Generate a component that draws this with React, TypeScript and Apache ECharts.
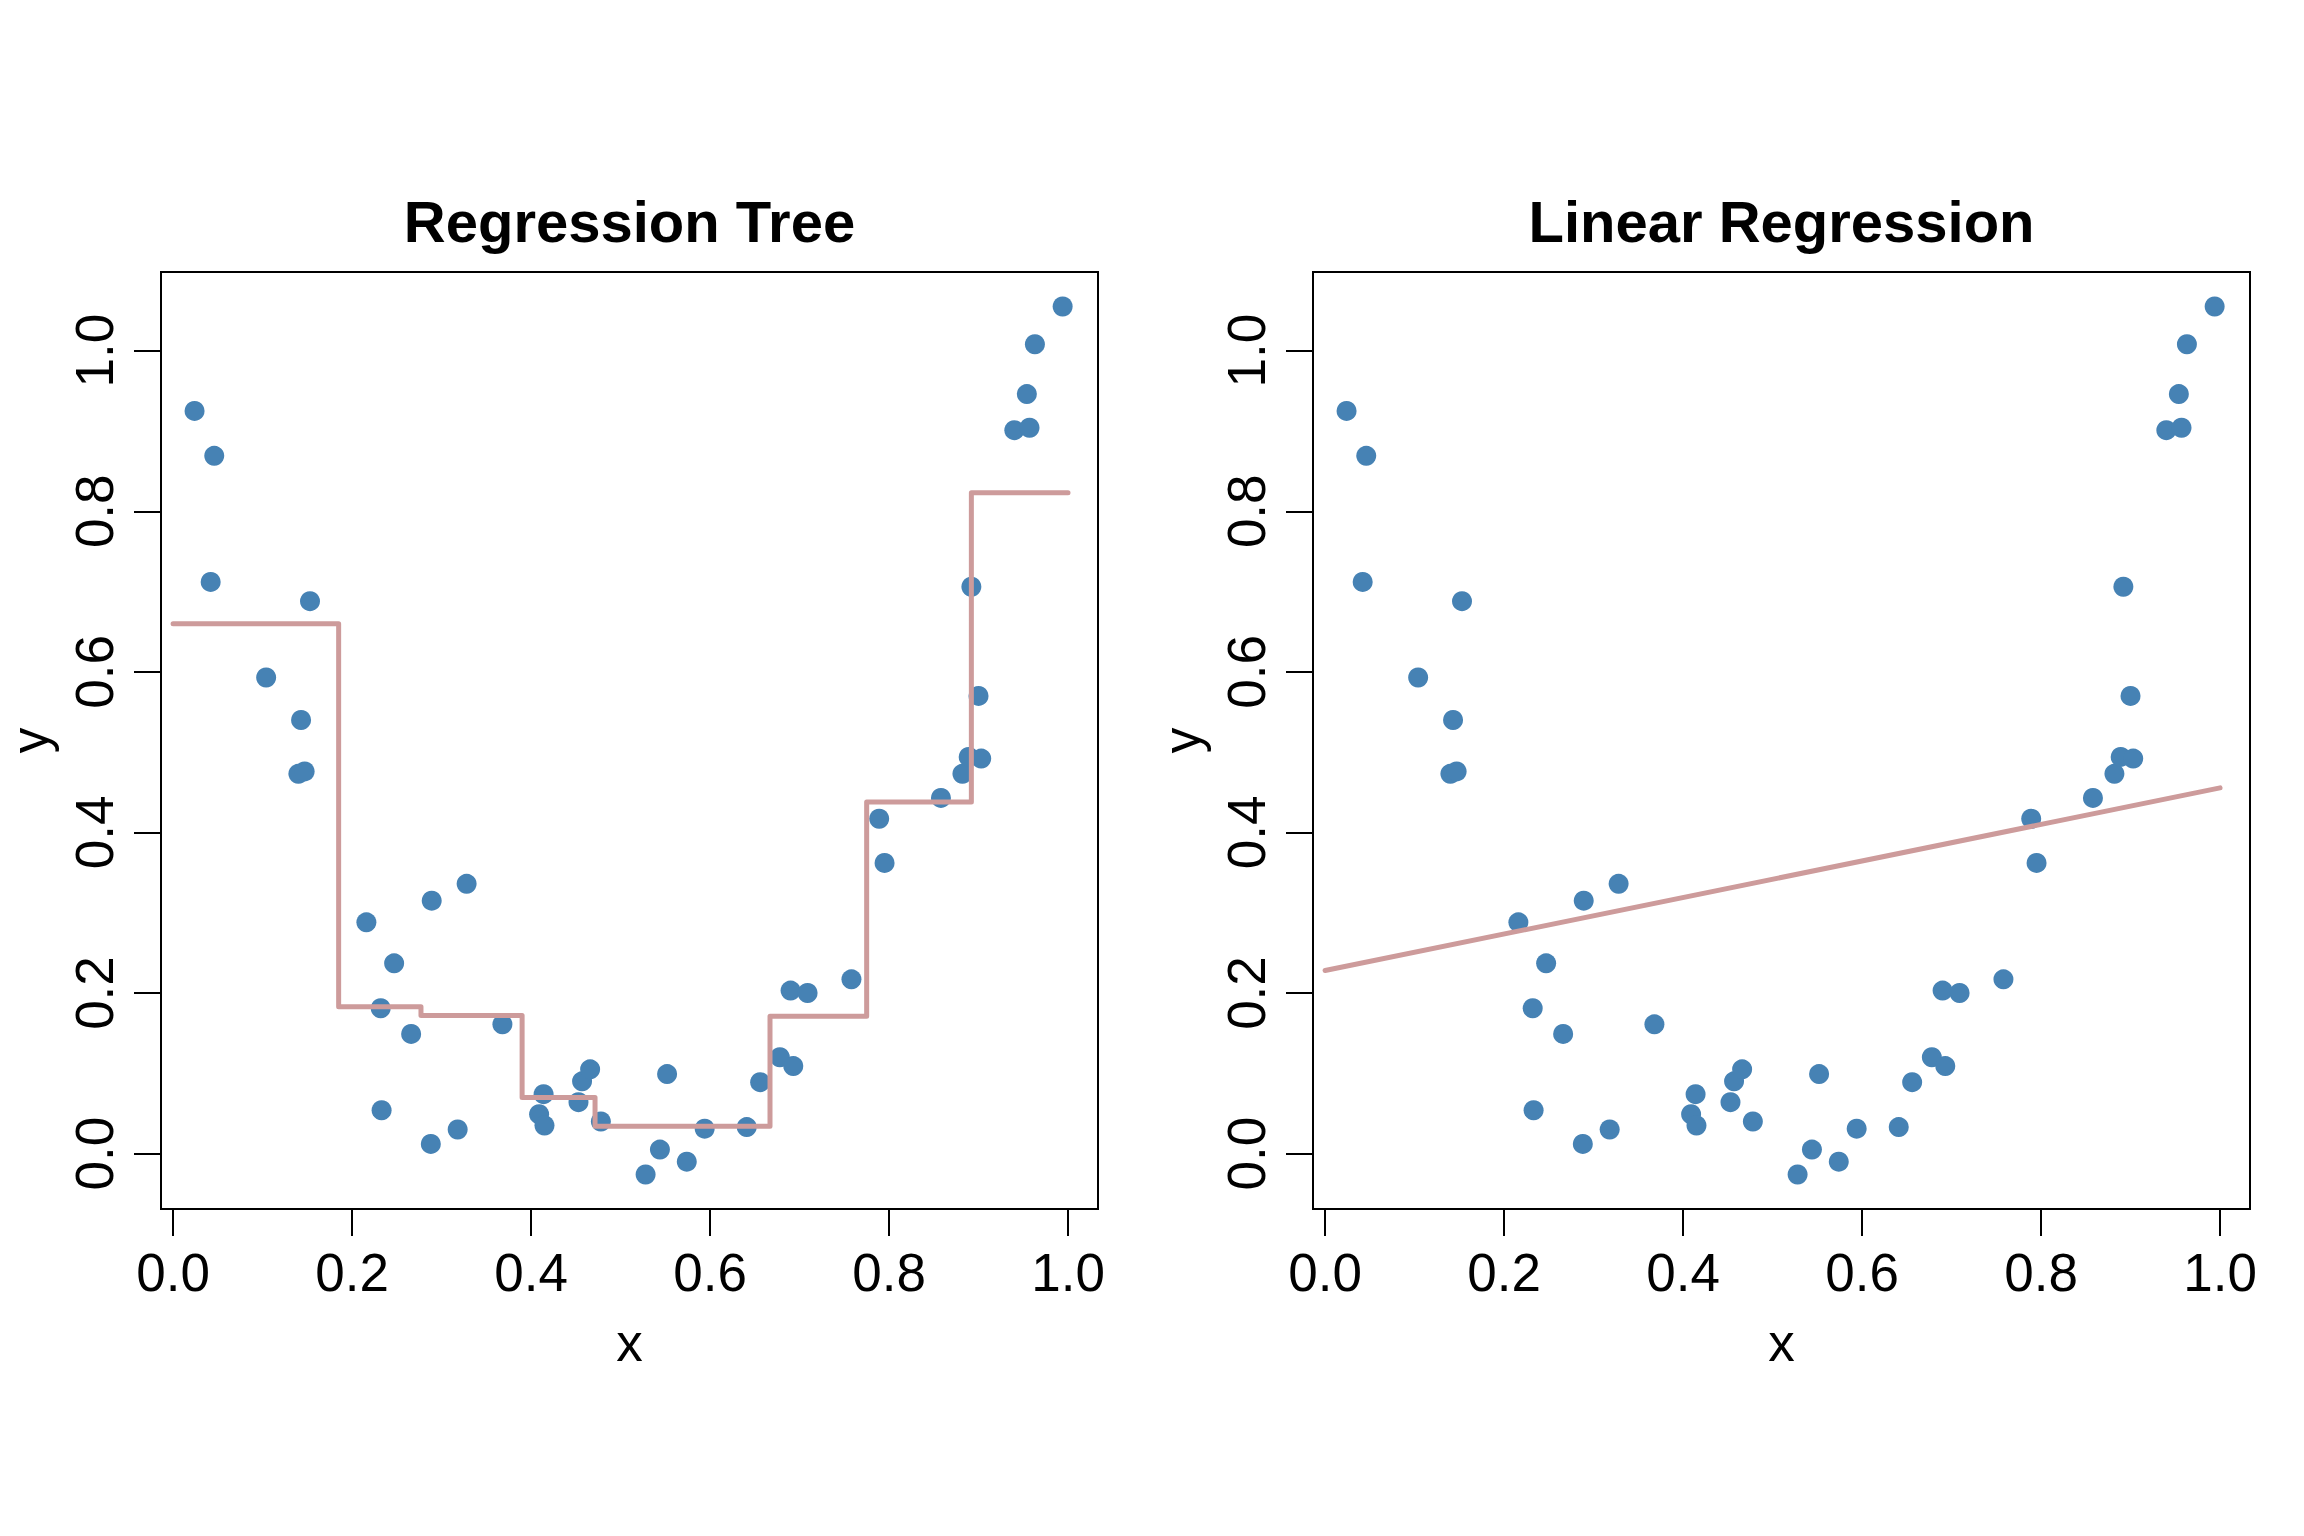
import React, { useEffect, useRef } from "react";
import * as echarts from "echarts";

// Observed data (x, y)
const pointX = [
  0.024, 0.046, 0.042, 0.104, 0.143, 0.153, 0.140, 0.147, 0.216, 0.232,
  0.233, 0.247, 0.266, 0.288, 0.289, 0.318, 0.328, 0.368, 0.409, 0.414,
  0.415, 0.453, 0.457, 0.466, 0.478, 0.528, 0.544, 0.552, 0.574, 0.594,
  0.641, 0.656, 0.678, 0.690, 0.693, 0.709, 0.758, 0.789, 0.795, 0.858,
  0.882, 0.889, 0.903, 0.892, 0.900, 0.940, 0.957, 0.954, 0.963, 0.994,
];
const pointY = [
  0.925, 0.869, 0.712, 0.593, 0.540, 0.688, 0.473, 0.476, 0.288, 0.181,
  0.054, 0.237, 0.149, 0.012, 0.315, 0.030, 0.336, 0.161, 0.049, 0.074,
  0.035, 0.064, 0.090, 0.105, 0.040, -0.026, 0.005, 0.099, -0.010, 0.031,
  0.033, 0.089, 0.120, 0.203, 0.109, 0.200, 0.217, 0.417, 0.362, 0.443,
  0.473, 0.494, 0.492, 0.706, 0.570, 0.901, 0.904, 0.946, 1.008, 1.055,
];

// Regression tree: split points and leaf means
const treeBreaks = [0, 0.185, 0.277, 0.390, 0.4715, 0.667, 0.775, 0.892, 1.0];
const treeLevels = [0.660, 0.183, 0.172, 0.070, 0.034, 0.171, 0.438, 0.823];

// Linear regression fit endpoints
const lmX = [0, 1];
const lmY = [0.228, 0.4555];

// Axis ticks
const tickValues = [0, 0.2, 0.4, 0.6, 0.8, 1.0];

const titles = ["Regression Tree", "Linear Regression"];

const FONT = "'Liberation Sans', Arial, Helvetica, sans-serif";
const POINT_COLOR = "#4682B4";
const LINE_COLOR = "#CD9B9B";

export default function App() {
  const ref = useRef<HTMLDivElement>(null);

  useEffect(() => {
    if (!ref.current) return;
    const chart = echarts.init(ref.current, null, { renderer: "svg" });

    const points = pointX.map((x, i) => [x, pointY[i]]);
    const treeData = treeBreaks.map((x, i) => [
      x,
      treeLevels[Math.min(i, treeLevels.length - 1)],
    ]);
    const lmData = lmX.map((x, i) => [x, lmY[i]]);

    const gridLefts = [161, 1313];
    const gridW = 937;
    const gridTop = 272;
    const gridH = 937;

    const mkX = (idx: number) => ({
      gridIndex: idx,
      type: "value",
      position: "bottom",
      min: -0.0135,
      max: 1.0335,
      splitLine: { show: false },
      axisLine: { show: false, onZero: false },
      axisTick: {
        show: true,
        inside: false,
        customValues: tickValues,
        length: 27,
        lineStyle: { color: "#000", width: 2 },
      },
      axisLabel: {
        customValues: tickValues,
        formatter: (v: number) => v.toFixed(1),
        color: "#000",
        fontFamily: FONT,
        fontSize: 53,
        margin: 63,
        verticalAlign: "middle",
        align: "center",
      },
      name: "x",
      nameLocation: "middle",
      nameGap: 133,
      nameTextStyle: {
        color: "#000",
        fontFamily: FONT,
        fontSize: 53,
        verticalAlign: "middle",
        align: "center",
      },
    });

    const mkY = (idx: number) => ({
      gridIndex: idx,
      type: "value",
      position: "left",
      min: -0.069,
      max: 1.098,
      splitLine: { show: false },
      axisLine: { show: false, onZero: false },
      axisTick: {
        show: true,
        inside: false,
        customValues: tickValues,
        length: 27,
        lineStyle: { color: "#000", width: 2 },
      },
      axisLabel: {
        customValues: tickValues,
        formatter: (v: number) => v.toFixed(1),
        color: "#000",
        fontFamily: FONT,
        fontSize: 53,
        margin: 67,
        rotate: 90,
        verticalAlign: "middle",
        align: "center",
      },
      name: "y",
      nameLocation: "middle",
      nameGap: 131,
      nameRotate: 90,
      nameTextStyle: {
        color: "#000",
        fontFamily: FONT,
        fontSize: 51,
        lineHeight: 51,
        verticalAlign: "middle",
        align: "center",
      },
    });

    chart.setOption({
      animation: false,
      backgroundColor: "#fff",
      grid: gridLefts.map((left) => ({
        left,
        top: gridTop,
        width: gridW,
        height: gridH,
        show: true,
        borderColor: "#000",
        borderWidth: 2,
        backgroundColor: "transparent",
        containLabel: false,
      })),
      xAxis: [mkX(0), mkX(1)],
      yAxis: [mkY(0), mkY(1)],
      graphic: titles.map((t, i) => ({
        type: "text",
        x: gridLefts[i] + gridW / 2,
        y: 221,
        style: {
          text: t,
          fill: "#000",
          font: `bold 58px ${FONT}`,
          textAlign: "center",
          textVerticalAlign: "middle",
        },
      })),
      series: [
        {
          type: "scatter",
          xAxisIndex: 0,
          yAxisIndex: 0,
          data: points,
          symbol: "circle",
          symbolSize: 20,
          itemStyle: { color: POINT_COLOR, opacity: 1 },
          z: 2,
        },
        {
          type: "line",
          xAxisIndex: 0,
          yAxisIndex: 0,
          data: treeData,
          step: "end",
          showSymbol: false,
          symbol: "none",
          lineStyle: { color: LINE_COLOR, width: 5, cap: "round", join: "round", opacity: 1 },
          z: 3,
        },
        {
          type: "scatter",
          xAxisIndex: 1,
          yAxisIndex: 1,
          data: points,
          symbol: "circle",
          symbolSize: 20,
          itemStyle: { color: POINT_COLOR, opacity: 1 },
          z: 2,
        },
        {
          type: "line",
          xAxisIndex: 1,
          yAxisIndex: 1,
          data: lmData,
          showSymbol: false,
          symbol: "none",
          lineStyle: { color: LINE_COLOR, width: 5, cap: "round", join: "round", opacity: 1 },
          z: 3,
        },
      ],
    });

    return () => chart.dispose();
  }, []);

  return (
    <div
      ref={ref}
      style={{
        position: "absolute",
        left: 0,
        top: 0,
        width: 2304,
        height: 1536,
        background: "#fff",
      }}
    />
  );
}
